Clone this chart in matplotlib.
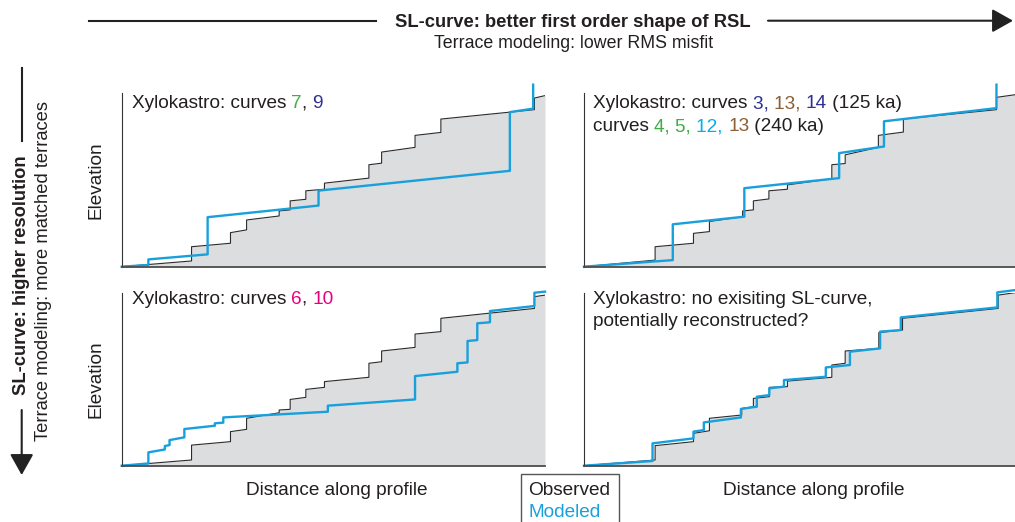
import matplotlib
matplotlib.use('Agg')
import matplotlib.pyplot as plt
from matplotlib.lines import Line2D
from matplotlib.patches import Rectangle, FancyArrowPatch

plt.rcParams['font.family'] = ['Liberation Sans', 'DejaVu Sans']

# distance along profile (0-100) and elevation (0-100)
# top left: curves 7, 9
tl_obs_x = [0, 16.5, 16.5, 25.7, 25.7, 29.5, 29.5, 37.2, 37.2, 39.8, 39.8, 43.5, 43.5,
            47.9, 47.9, 58.4, 58.4, 61.4, 61.4, 69.3, 69.3, 75.4, 75.4, 97.5, 97.5, 100]
tl_obs_y = [0, 3.3, 11.5, 13.5, 19.6, 21.2, 26.9, 29.2, 32.1, 32.7, 37.9, 38.8, 43.7,
            44.6, 48.1, 51.0, 58.7, 59.6, 66.0, 68.7, 75.6, 77.3, 85.0, 90.4, 97.1, 98.5]
tl_mod_x = [0, 6.3, 6.3, 20.3, 20.3, 46.5, 46.5, 91.7, 91.7, 97.2, 97.2]
tl_mod_y = [0, 1.0, 4.2, 7.1, 28.5, 35.2, 43.8, 55.2, 89.0, 91.0, 104.8]

# top right: curves 3, 13, 14 / 4, 5, 12, 13
tr_obs_x = [0, 16.5, 16.5, 25.4, 25.4, 29.1, 29.1, 36.8, 36.8, 39.3, 39.3, 42.9, 42.9,
            47.2, 47.2, 57.5, 57.5, 60.6, 60.6, 68.3, 68.3, 74.1, 74.1, 95.7, 95.7, 100]
tr_obs_y = [0, 3.8, 11.5, 13.5, 19.2, 20.2, 26.0, 28.8, 32.1, 32.7, 37.9, 39.0, 43.7,
            44.6, 47.1, 50.6, 58.7, 59.4, 64.4, 68.7, 75.6, 77.5, 85.0, 90.4, 97.5, 99.0]
tr_mod_x = [0, 20.6, 20.6, 37.2, 37.2, 59.2, 59.2, 69.6, 69.6, 95.7, 95.7]
tr_mod_y = [0, 3.8, 24.4, 28.8, 45.2, 51.0, 65.4, 69.2, 83.7, 91.3, 104.8]

# bottom left: curves 6, 10
bl_obs_x = [0, 16.5, 16.5, 25.7, 25.7, 29.5, 29.5, 37.2, 37.2, 39.8, 39.8, 43.5, 43.5,
            47.9, 47.9, 58.4, 58.4, 61.4, 61.4, 69.3, 69.3, 75.4, 75.4, 97.5, 97.5, 100]
bl_obs_y = [0, 3.3, 11.9, 13.9, 19.7, 21.0, 27.4, 30.6, 32.2, 32.6, 38.3, 39.5, 44.1,
            45.3, 48.6, 51.1, 59.2, 60.1, 66.3, 68.4, 76.1, 77.5, 85.2, 90.9, 97.7, 98.6]
bl_mod_x = [0, 6.3, 6.3, 10.2, 10.2, 11.3, 11.3, 14.8, 14.8, 22.0, 22.0, 24.0, 24.0, 48.7,
            48.7, 69.3, 69.3, 79.3, 79.3, 81.7, 81.7, 84.0, 84.0, 87.0, 87.0, 97.5, 97.5, 100]
bl_mod_y = [0, 1.3, 7.7, 9.4, 11.4, 11.9, 14.8, 16.4, 21.2, 23.1, 24.5, 24.9, 27.9, 31.2,
            34.7, 38.3, 51.8, 54.3, 59.2, 59.7, 72.1, 72.6, 82.3, 82.9, 89.4, 92.3, 100.0, 100.6]

# bottom right: reconstructed curve
br_obs_x = [0, 16.5, 16.5, 25.4, 25.4, 29.1, 29.1, 36.6, 36.6, 39.3, 39.3, 43.0, 43.0,
            47.2, 47.2, 57.5, 57.5, 60.6, 60.6, 68.4, 68.4, 73.9, 73.9, 96.1, 96.1, 100]
br_obs_y = [0, 3.3, 11.6, 13.9, 18.7, 20.2, 27.4, 29.3, 33.1, 34.1, 38.9, 39.9, 45.3,
            45.7, 48.9, 51.1, 58.2, 59.2, 66.3, 67.8, 76.9, 78.4, 85.2, 90.9, 98.6, 100.0]
br_mod_x = [0, 15.9, 15.9, 25.4, 25.4, 27.8, 27.8, 36.4, 36.4, 40.1, 40.1, 43.0, 43.0,
            46.4, 46.4, 56.1, 56.1, 61.7, 61.7, 68.7, 68.7, 73.5, 73.5, 95.9, 95.9, 100]
br_mod_y = [0, 2.7, 12.9, 15.8, 19.7, 20.6, 25.0, 27.9, 32.8, 34.1, 39.9, 40.8, 44.7,
            45.7, 49.5, 51.4, 56.8, 58.2, 65.9, 67.8, 77.5, 78.4, 85.7, 91.5, 100.2, 101.5]

# colours
BLUE = '#18a0dc'
GRAY = '#dcdddf'
INK = '#231f20'
GREEN = '#3fae49'
NAVY = '#2e3192'
BROWN = '#8b5e34'
CYAN = '#00aeef'
MAGENTA = '#e6007e'

W, H = 1015, 522
fig = plt.figure(figsize=(W / 100, H / 100), dpi=100)


def fx(x):
    return x / W


def fy(y):
    return 1 - y / H


def add_panel(l, r, t, b):
    return fig.add_axes([fx(l), fy(b), fx(r) - fx(l), fy(t) - fy(b)])


def draw_panel(ax, ox, oy, mx, my):
    ax.fill_between(ox, oy, 0, color=GRAY, lw=0)
    ax.plot(ox, oy, color='#2b2b2b', lw=0.8)
    ax.plot(mx, my, color=BLUE, lw=1.7, clip_on=False)
    ax.set_xlim(0, 100)
    ax.set_ylim(0, 100)
    ax.set_xticks([])
    ax.set_yticks([])
    ax.spines['top'].set_visible(False)
    ax.spines['right'].set_visible(False)
    ax.spines['left'].set_color('#333333')
    ax.spines['left'].set_linewidth(0.8)
    ax.spines['bottom'].set_color('#4d4d4d')
    ax.spines['bottom'].set_linewidth(1.3)


def color_text(ax, xpx, ypx, pieces, size=13.7):
    t = ax.annotate(pieces[0][0], xy=(xpx, H - ypx), xycoords='figure pixels',
                    color=pieces[0][1], fontsize=size, va='baseline', ha='left',
                    annotation_clip=False)
    for s, c in pieces[1:]:
        t = ax.annotate(s, xy=(1, 0), xycoords=t, color=c, fontsize=size,
                        va='bottom', ha='left', annotation_clip=False)


ax1 = add_panel(121.7, 545, 93, 266.7)
ax2 = add_panel(584, 1015, 93, 266.7)
ax3 = add_panel(121.7, 545, 292.7, 465.7)
ax4 = add_panel(584, 1015, 292.7, 465.7)

draw_panel(ax1, tl_obs_x, tl_obs_y, tl_mod_x, tl_mod_y)
draw_panel(ax2, tr_obs_x, tr_obs_y, tr_mod_x, tr_mod_y)
draw_panel(ax3, bl_obs_x, bl_obs_y, bl_mod_x, bl_mod_y)
draw_panel(ax4, br_obs_x, br_obs_y, br_mod_x, br_mod_y)

color_text(ax1, 131.7, 108.3, [('Xylokastro: curves ', INK), ('7', GREEN),
                               (', ', INK), ('9', NAVY)])
color_text(ax2, 593.3, 108.3, [('Xylokastro: curves ', INK), ('3, ', NAVY),
                               ('13, ', BROWN), ('14', NAVY), (' (125 ka)', INK)])
color_text(ax2, 593.3, 131.0, [('curves ', INK), ('4, ', GREEN), ('5, ', GREEN),
                               ('12, ', CYAN), ('13', BROWN), (' (240 ka)', INK)])
color_text(ax3, 131.7, 304.0, [('Xylokastro: curves ', INK), ('6', MAGENTA),
                               (', ', INK), ('10', MAGENTA)])
color_text(ax4, 593.3, 304.0, [('Xylokastro: no exisiting SL-curve,', INK)])
color_text(ax4, 593.3, 326.5, [('potentially reconstructed?', INK)])

# axis labels
for yc in [(93 + 266.7) / 2, (292.7 + 465.7) / 2]:
    fig.text(fx(96), fy(yc), 'Elevation', rotation=90, ha='center', va='center',
             fontsize=13.7, color=INK)
for xc in [337, 814]:
    fig.text(fx(xc), fy(495), 'Distance along profile', ha='center', va='baseline',
             fontsize=13.7, color=INK)

# legend box
fig.add_artist(Rectangle((fx(520.7), fy(530)), fx(619) - fx(520.7), fy(474) - fy(530),
                         transform=fig.transFigure, facecolor='white',
                         edgecolor='#555555', lw=1.0, clip_on=False))
fig.text(fx(528), fy(495), 'Observed', fontsize=13.7, color=INK, va='baseline')
fig.text(fx(528), fy(516.7), 'Modeled', fontsize=13.7, color=BLUE, va='baseline')

# headers
fig.text(fx(572.5), fy(26.7), 'SL-curve: better first order shape of RSL',
         ha='center', va='baseline', fontsize=13.2, fontweight='bold', color=INK)
fig.text(fx(573.5), fy(48.3), 'Terrace modeling: lower RMS misfit',
         ha='center', va='baseline', fontsize=12.8, color=INK)
fig.text(fx(21.5), fy(275), 'SL-curve: higher resolution', rotation=90,
         ha='center', va='center', fontsize=13.2, fontweight='bold', color=INK)
fig.text(fx(43.5), fy(271), 'Terrace modeling: more matched terraces', rotation=90,
         ha='center', va='center', fontsize=13.2, color=INK)

# direction arrows
fig.add_artist(Line2D([fx(89), fx(376)], [fy(20.7), fy(20.7)], color='#222222',
                      lw=1.5, transform=fig.transFigure))
fig.add_artist(FancyArrowPatch((fx(768), fy(20.7)), (fx(1013), fy(20.7)),
                               transform=fig.transFigure, color='#222222', lw=1.5,
                               arrowstyle='-|>,head_length=0.8,head_width=0.45',
                               mutation_scale=16, shrinkA=0, shrinkB=0))
fig.add_artist(Line2D([fx(21.7), fx(21.7)], [fy(68), fy(141)], color='#222222',
                      lw=1.5, transform=fig.transFigure))
fig.add_artist(FancyArrowPatch((fx(21.7), fy(410)), (fx(21.7), fy(475)),
                               transform=fig.transFigure, color='#222222', lw=1.5,
                               arrowstyle='-|>,head_length=0.8,head_width=0.45',
                               mutation_scale=16, shrinkA=0, shrinkB=0))

fig.savefig('out.png', dpi=100)
